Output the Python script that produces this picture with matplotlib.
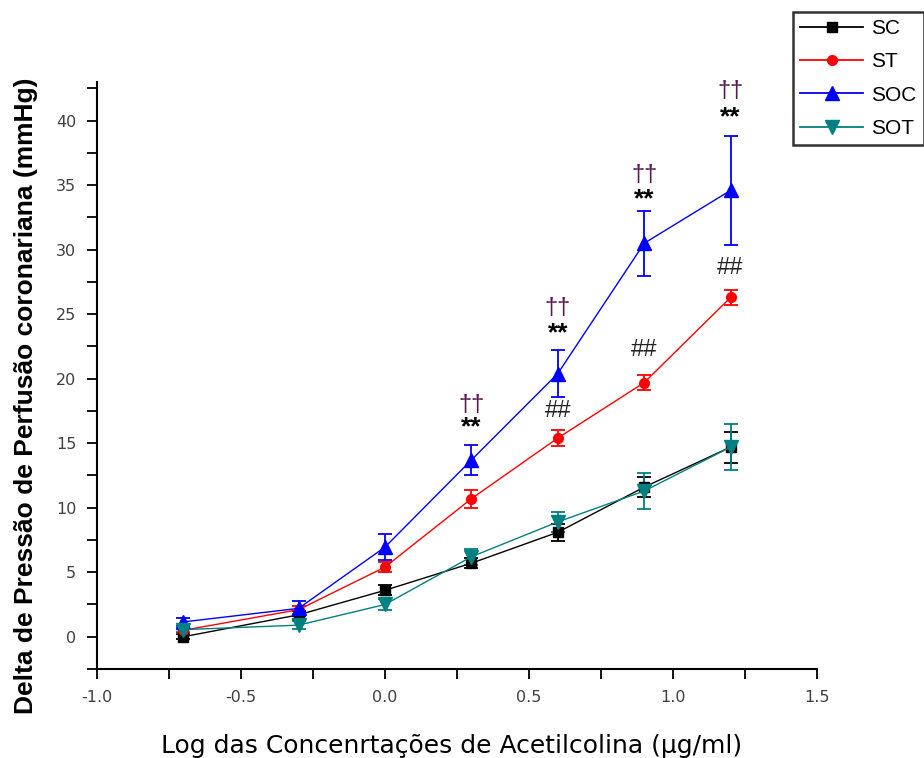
import matplotlib
matplotlib.use("Agg")
import matplotlib.pyplot as plt
from matplotlib.ticker import MultipleLocator, FormatStrFormatter
from matplotlib.lines import Line2D

plt.rcParams['font.family'] = ['Liberation Sans', 'DejaVu Sans']

log_conc = [-0.7, -0.3, 0.0, 0.3, 0.6, 0.9, 1.2]

sc_mean = [0.0, 1.7, 3.6, 5.7, 8.1, 11.6, 14.7]
sc_err = [0.2, 0.3, 0.4, 0.4, 0.65, 0.8, 1.2]

st_mean = [0.5, 2.1, 5.4, 10.7, 15.4, 19.7, 26.3]
st_err = [0.2, 0.3, 0.4, 0.7, 0.6, 0.6, 0.6]

soc_mean = [1.15, 2.2, 6.95, 13.7, 20.4, 30.5, 34.6]
soc_err = [0.3, 0.6, 1.0, 1.2, 1.85, 2.5, 4.2]

sot_mean = [0.55, 0.9, 2.5, 6.2, 8.9, 11.3, 14.7]
sot_err = [0.2, 0.3, 0.4, 0.6, 0.8, 1.4, 1.8]

series_names = ['SC', 'ST', 'SOC', 'SOT']

# significance annotations (x, y, text)
dagger_x = [0.3, 0.6, 0.9, 1.2]
dagger_y = [18.0, 25.5, 35.8, 42.3]
star_x = [0.3, 0.6, 0.9, 1.2]
star_y = [16.2, 23.5, 33.9, 40.3]
hash_x = [0.6, 0.9, 1.2]
hash_y = [17.5, 22.2, 28.6]

fig = plt.figure(figsize=(9.24, 7.58), dpi=100)
ax = fig.add_axes([97/924, 1-669/758, (817-97)/924, (669-82)/758])

styles = [
    ('black', 's', 7, sc_mean, sc_err),
    ('#ff0000', 'o', 7, st_mean, st_err),
    ('#0000ff', '^', 10, soc_mean, soc_err),
    ('#008080', 'v', 10, sot_mean, sot_err),
]
handles = []
for (c, m, ms, mean, err), name in zip(styles, series_names):
    ax.errorbar(log_conc, mean, yerr=err, color=c, marker=m, markersize=ms,
                linewidth=1.0, elinewidth=1.3, capsize=5, capthick=1.3,
                markeredgecolor=c, markerfacecolor=c)
    handles.append(Line2D([], [], color=c, marker=m, markersize=ms, linewidth=1.3,
                          markeredgecolor=c, markerfacecolor=c, label=name))

for x, y in zip(dagger_x, dagger_y):
    ax.text(x, y, '\u2020\u2020', ha='center', va='center', fontsize=17,
            color='#5a1a50', clip_on=False)
for x, y in zip(star_x, star_y):
    ax.text(x, y, '**', ha='center', va='center', fontsize=19, fontweight='bold',
            color='black', clip_on=False)
for x, y in zip(hash_x, hash_y):
    ax.text(x, y, '##', ha='center', va='center', fontsize=17,
            color='#222222', clip_on=False)

ax.set_xlim(-1.0, 1.5)
ax.set_ylim(-2.5, 43)
ax.xaxis.set_major_locator(MultipleLocator(0.5))
ax.xaxis.set_minor_locator(MultipleLocator(0.25))
ax.yaxis.set_major_locator(MultipleLocator(5))
ax.yaxis.set_minor_locator(MultipleLocator(2.5))
ax.xaxis.set_major_formatter(FormatStrFormatter('%.1f'))
ax.set_yticks([0, 5, 10, 15, 20, 25, 30, 35, 40])

for s in ['top', 'right']:
    ax.spines[s].set_visible(False)
for s in ['left', 'bottom']:
    ax.spines[s].set_linewidth(1.5)
ax.tick_params(which='both', direction='out', length=7, width=1.3)
ax.tick_params(axis='both', which='major', labelsize=11.5, labelcolor='#404040', pad=8)
for lab in ax.get_xticklabels() + ax.get_yticklabels():
    lab.set_family('DejaVu Sans')

ax.set_xlabel('Log das Concenrtações de Acetilcolina (µg/ml)', fontsize=18,
              family='DejaVu Sans')
ax.xaxis.set_label_coords(0.493, -0.11)
ax.set_ylabel('Delta de Pressão de Perfusão coronariana (mmHg)', fontsize=19,
              fontweight='bold')
ax.yaxis.set_label_coords(-0.082, 0.465)

leg = fig.legend(handles=handles, loc='upper left', bbox_to_anchor=(793/924, 1-12/758),
                 fontsize=15, frameon=True, fancybox=False, handlelength=3.0,
                 borderpad=0.35, labelspacing=0.68, handletextpad=0.4,
                 borderaxespad=0)
leg.get_frame().set_edgecolor('black')
leg.get_frame().set_linewidth(1.8)

fig.savefig('out.png', dpi=100)
